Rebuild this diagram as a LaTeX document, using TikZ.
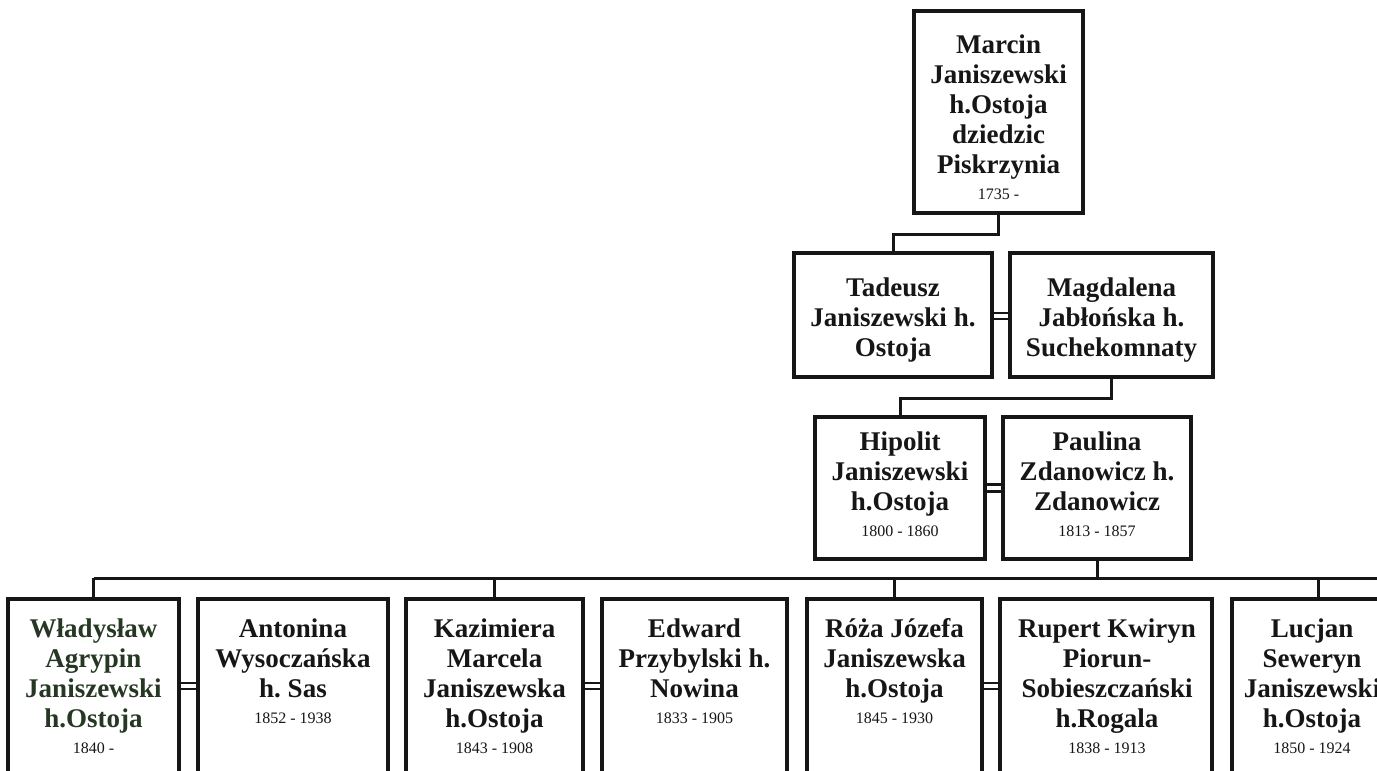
\documentclass[tikz,border=0pt]{standalone}
\usepackage{fontspec}
\setmainfont{Liberation Serif}
\definecolor{wladgreen}{RGB}{38,56,36}
\definecolor{inkblack}{RGB}{22,22,22}
\newcommand\namefont{\fontsize{27}{30}\selectfont\bfseries}
\newcommand\yearfont{\fontsize{16}{18}\selectfont\mdseries}
\newcommand\ptab[1]{\begin{tabular}[t]{@{}c@{}}#1\end{tabular}}
\newcommand\yrs[1]{\\[-4pt]{\yearfont #1}}
\frenchspacing
\begin{document}
\begin{tikzpicture}[x=1pt,y=-1pt,
  pbox/.style={draw=inkblack, line width=3.4pt, inner sep=0pt},
  ptext/.style={anchor=base, inner sep=0pt, font=\namefont, text=inkblack},
  conn/.style={draw=inkblack, line width=3pt},
  marry/.style={draw=inkblack, line width=2.4pt}]
\useasboundingbox (0,0) rectangle (1377,771);
\fill[white] (0,0) rectangle (1377,771);
\clip (0,0) rectangle (1377,771);

% boxes
\node[pbox, minimum width=169pt, minimum height=202pt] (marcin) at (998.5,112) {};
\node[pbox, minimum width=198pt, minimum height=124pt] (tadeusz) at (893,315) {};
\node[pbox, minimum width=203pt, minimum height=124pt] (magda) at (1111.5,315) {};
\node[pbox, minimum width=170pt, minimum height=142pt] (hipolit) at (900,488) {};
\node[pbox, minimum width=188pt, minimum height=142pt] (paulina) at (1097,488) {};
\node[pbox, minimum width=171pt, minimum height=191pt] (wlad) at (93.5,694.5) {};
\node[pbox, minimum width=190pt, minimum height=191pt] (anton) at (293,694.5) {};
\node[pbox, minimum width=177pt, minimum height=191pt] (kazim) at (494.5,694.5) {};
\node[pbox, minimum width=185pt, minimum height=191pt] (edward) at (694.5,694.5) {};
\node[pbox, minimum width=175pt, minimum height=191pt] (roza) at (894.5,694.5) {};
\node[pbox, minimum width=212pt, minimum height=191pt] (rupert) at (1106,694.5) {};
\node[pbox, minimum width=172pt, minimum height=191pt] (lucjan) at (1318,694.5) {};

% texts
\node[ptext] (marcint) at (998.5,53) {\ptab{Marcin\\Janiszewski\\h.Ostoja\\dziedzic\\Piskrzynia\yrs{1735 -}}};
\node[ptext] (tadeuszt) at (893,296) {\ptab{Tadeusz\\Janiszewski h.\\Ostoja}};
\node[ptext] (magdat) at (1111.5,296) {\ptab{Magdalena\\Jabłońska h.\\Suchekomnaty}};
\node[ptext] (hipolitt) at (900,450) {\ptab{Hipolit\\Janiszewski\\h.Ostoja\yrs{1800 - 1860}}};
\node[ptext] (paulinat) at (1097,450) {\ptab{Paulina\\Zdanowicz h.\\Zdanowicz\yrs{1813 - 1857}}};
\node[ptext, text=wladgreen] (wladt) at (93.5,637) {\ptab{Władysław\\Agrypin\\Janiszewski\\h.Ostoja\yrs{\color{inkblack}1840 -}}};
\node[ptext] (antont) at (293,637) {\ptab{Antonina\\Wysoczańska\\h. Sas\yrs{1852 - 1938}}};
\node[ptext] (kazimt) at (494.5,637) {\ptab{Kazimiera\\Marcela\\Janiszewska\\h.Ostoja\yrs{1843 - 1908}}};
\node[ptext] (edwardt) at (694.5,637) {\ptab{Edward\\Przybylski h.\\Nowina\yrs{1833 - 1905}}};
\node[ptext] (rozat) at (894.5,637) {\ptab{Róża Józefa\\Janiszewska\\h.Ostoja\yrs{1845 - 1930}}};
\node[ptext] (rupertt) at (1107,637) {\ptab{Rupert Kwiryn\\Piorun-\\Sobieszczański\\h.Rogala\yrs{1838 - 1913}}};
\node[ptext] (lucjant) at (1312,637) {\ptab{Lucjan\\Seweryn\\Janiszewski\\h.Ostoja\yrs{1850 - 1924}}};

% helper coordinates
\coordinate (bus) at (0,578);
\coordinate (busend) at (1400,578);
\coordinate (ma) at (0,683);
\coordinate (mb) at (0,689);

% descent connectors
\draw[conn] (marcin.south) -- ++(0,20) -| (tadeusz.north);
\draw[conn] (magda.south) -- ++(0,20) -| (hipolit.north);
\draw[conn] (paulina.south) -- (paulina.south |- bus);
\draw[conn] (wlad.north |- bus) -- (busend);
\draw[conn] (wlad.north) -- (wlad.north |- bus);
\draw[conn] (kazim.north) -- (kazim.north |- bus);
\draw[conn] (roza.north) -- (roza.north |- bus);
\draw[conn] (lucjan.north) -- (lucjan.north |- bus);

% marriage lines
\draw[marry] ([yshift=2pt]tadeusz.east) -- ([yshift=2pt]magda.west);
\draw[marry] ([yshift=-4pt]tadeusz.east) -- ([yshift=-4pt]magda.west);
\draw[marry] ([yshift=3.5pt]hipolit.east) -- ([yshift=3.5pt]paulina.west);
\draw[marry] ([yshift=-3.5pt]hipolit.east) -- ([yshift=-3.5pt]paulina.west);
\draw[marry] (wlad.east |- ma) -- (anton.west |- ma);
\draw[marry] (wlad.east |- mb) -- (anton.west |- mb);
\draw[marry] (kazim.east |- ma) -- (edward.west |- ma);
\draw[marry] (kazim.east |- mb) -- (edward.west |- mb);
\draw[marry] (roza.east |- ma) -- (rupert.west |- ma);
\draw[marry] (roza.east |- mb) -- (rupert.west |- mb);
\end{tikzpicture}
\end{document}
